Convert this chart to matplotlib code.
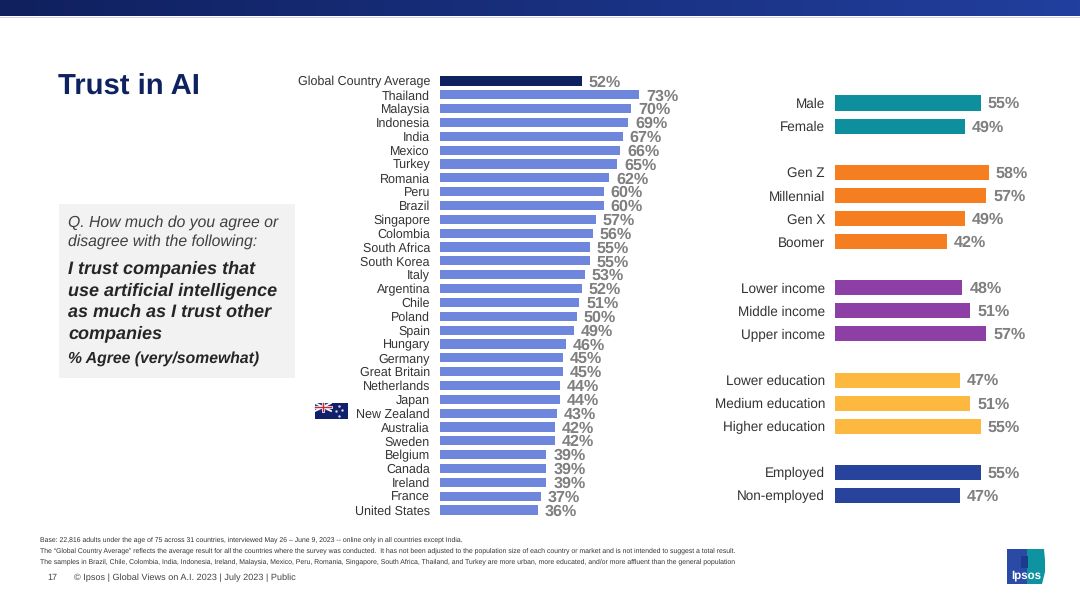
"""Trust in AI slide: % agree by country and by demographic group."""

import numpy as np
import matplotlib.pyplot as plt
from matplotlib.patches import Rectangle, Polygon

plt.rcParams["font.family"] = ["Liberation Sans", "DejaVu Sans"]
plt.rcParams["text.hinting"] = "no_hinting"

# ── Data ──────────────────────────────────────────────────────────────
countries = ["Global Country Average", "Thailand", "Malaysia", "Indonesia", "India", "Mexico",
             "Turkey", "Romania", "Peru", "Brazil", "Singapore", "Colombia", "South Africa",
             "South Korea", "Italy", "Argentina", "Chile", "Poland", "Spain", "Hungary",
             "Germany", "Great Britain", "Netherlands", "Japan", "New Zealand", "Australia",
             "Sweden", "Belgium", "Canada", "Ireland", "France", "United States"]
country_values = [52, 73, 70, 69, 67, 66, 65, 62, 60, 60, 57, 56, 55, 55, 53, 52, 51, 50, 49,
                  46, 45, 45, 44, 44, 43, 42, 42, 39, 39, 39, 37, 36]

groups = ["Male", "Female", "", "Gen Z", "Millennial", "Gen X", "Boomer", "",
          "Lower income", "Middle income", "Upper income", "",
          "Lower education", "Medium education", "Higher education", "",
          "Employed", "Non-employed"]
group_values = [55, 49, None, 58, 57, 49, 42, None, 48, 51, 57, None, 47, 51, 55, None, 55, 47]
group_colors = ["#0E8F9E", "#0E8F9E", None, "#F57E20", "#F57E20", "#F57E20", "#F57E20", None,
                "#8E3FA6", "#8E3FA6", "#8E3FA6", None, "#FDB93F", "#FDB93F", "#FDB93F", None,
                "#27439B", "#27439B"]

GREY = "#7F7F7F"
TEXT = "#333333"
NAVY = "#0F2260"

W, H = 1080, 607
fig = plt.figure(figsize=(W / 100, H / 100), dpi=100, facecolor="white")


def px_axes(x0, y0, x1, y1, **kw):
    # axes placed by pixel box, y0 being the top edge
    return fig.add_axes([x0 / W, 1 - y1 / H, (x1 - x0) / W, (y1 - y0) / H], **kw)


# ── Page layer, in pixel coordinates ──────────────────────────────────
page = px_axes(0, 0, W, H)
page.set_xlim(0, W)
page.set_ylim(H, 0)
page.axis("off")

gradient = np.linspace(0, 1, 256).reshape(1, -1)
cmap = plt.matplotlib.colors.LinearSegmentedColormap.from_list("hdr", ["#10205E", "#213F9E"])
page.imshow(gradient, extent=(0, W, 16, 0), aspect="auto", cmap=cmap, zorder=1)
page.set_xlim(0, W)
page.set_ylim(H, 0)
page.plot([0, W], [16.5, 16.5], color="#C5CCE0", lw=0.6)

page.text(58.5, 86, "Trust in AI", fontsize=21.1, fontweight="bold", color=NAVY, va="center")

page.add_patch(Rectangle((59, 204), 236, 174, facecolor="#F2F2F2", edgecolor="none"))
page.text(68, 232, "Q. How much do you agree or\ndisagree with the following:", fontsize=11.33,
          style="italic", color="#404040", va="center", linespacing=1.42)
page.text(68, 301, "I trust companies that\nuse artificial intelligence\nas much as I trust other\ncompanies",
          fontsize=13, style="italic", fontweight="bold", color="#262626", va="center",
          linespacing=1.37)
page.text(68, 359, "% Agree (very/somewhat)", fontsize=11.3, style="italic", fontweight="bold",
          color="#262626", va="center")

# Footnotes
notes = [
    (540, "Base: 22,816 adults under the age of 75 across 31 countries, interviewed May 26 – June 9, 2023 -- online only in all countries except India."),
    (551, "The “Global Country Average” reflects the average result for all the countries where the survey was conducted.  It has not been adjusted to the population size of each country or market and is not intended to suggest a total result."),
    (562, "The samples in Brazil, Chile, Colombia, India, Indonesia, Ireland, Malaysia, Mexico, Peru, Romania, Singapore, South Africa, Thailand, and Turkey are more urban, more educated, and/or more affluent than the general population"),
]
for y, note in notes:
    page.text(40, y, note, fontsize=4.91, color="#333333", va="center")
page.text(47, 578, "17", fontsize=6.5, color="#444444", va="center")
page.text(74, 578, "© Ipsos | Global Views on A.I. 2023 | July 2023 | Public", fontsize=6.56,
          color="#444444", va="center")

# Ipsos logo
page.add_patch(Rectangle((1007, 549), 22, 35, facecolor="#2B4AA6", edgecolor="none"))
page.add_patch(Polygon([(1027, 549), (1044, 549), (1045, 560), (1045, 572), (1042, 584), (1027, 584)],
                       facecolor="#0E93A0", edgecolor="none"))
page.add_patch(Rectangle((1021, 556), 7, 12, facecolor="#1B3C8C", edgecolor="none"))
page.text(1026, 575, "Ipsos", fontsize=8.3, fontweight="bold", color="white",
          ha="center", va="center")

# New Zealand flag
page.add_patch(Rectangle((315, 403), 33, 16, facecolor="#10206B", edgecolor="none"))
page.add_patch(Rectangle((315, 403), 16, 8, facecolor="#2A3A80", edgecolor="none"))
page.plot([315, 331], [403, 411], color="white", lw=1.3)
page.plot([315, 331], [411, 403], color="white", lw=1.3)
page.plot([323, 323], [403, 411], color="white", lw=2)
page.plot([315, 331], [407, 407], color="white", lw=2)
page.plot([323, 323], [403, 411], color="#C8283C", lw=1)
page.plot([315, 331], [407, 407], color="#C8283C", lw=1)
page.plot([339, 342, 336, 339], [406, 410, 411, 416], ls="none", marker=".", ms=1.5, color="#D9D9E8")

# ── Countries ─────────────────────────────────────────────────────────
step = (510 - 81) / (len(countries) - 1)
ax1 = px_axes(440, 81 - step / 2, 713, 510 + step / 2, facecolor="none")
rows = np.arange(len(countries))
colors = [NAVY] + ["#6E86DC"] * (len(countries) - 1)
ax1.barh(rows, country_values, height=0.66, color=colors)
ax1.set_xlim(0, 100)
ax1.set_ylim(len(countries) - 0.5, -0.5)
ax1.set_yticks(rows, countries, fontsize=9.0, color=TEXT)
ax1.tick_params(axis="y", length=0, pad=7.2)
ax1.set_xticks([])
for side in ax1.spines.values():
    side.set_visible(False)
for r, v in zip(rows, country_values):
    ax1.text(v + 2.5, r + 0.1, f"{v}%", fontsize=11.6, fontweight="bold", color=GREY, va="center")

# ── Demographics ──────────────────────────────────────────────────────
step2 = (495.5 - 103) / (len(groups) - 1)
ax2 = px_axes(835, 103 - step2 / 2, 1080, 495.5 + step2 / 2, facecolor="none")
rows2 = [i for i, v in enumerate(group_values) if v is not None]
ax2.barh(rows2, [group_values[i] for i in rows2], height=0.65,
         color=[group_colors[i] for i in rows2])
ax2.set_xlim(0, 245 / 2.655)
ax2.set_ylim(len(groups) - 0.5, -0.5)
ax2.set_yticks(rows2, [groups[i] for i in rows2], fontsize=9.75, color=TEXT)
ax2.tick_params(axis="y", length=0, pad=7.2)
ax2.set_xticks([])
for side in ax2.spines.values():
    side.set_visible(False)
for r in rows2:
    v = group_values[r]
    ax2.text(v + 2.6, r + 0.05, f"{v}%", fontsize=11.6, fontweight="bold", color=GREY, va="center")

fig.savefig("out.png", dpi=100)
